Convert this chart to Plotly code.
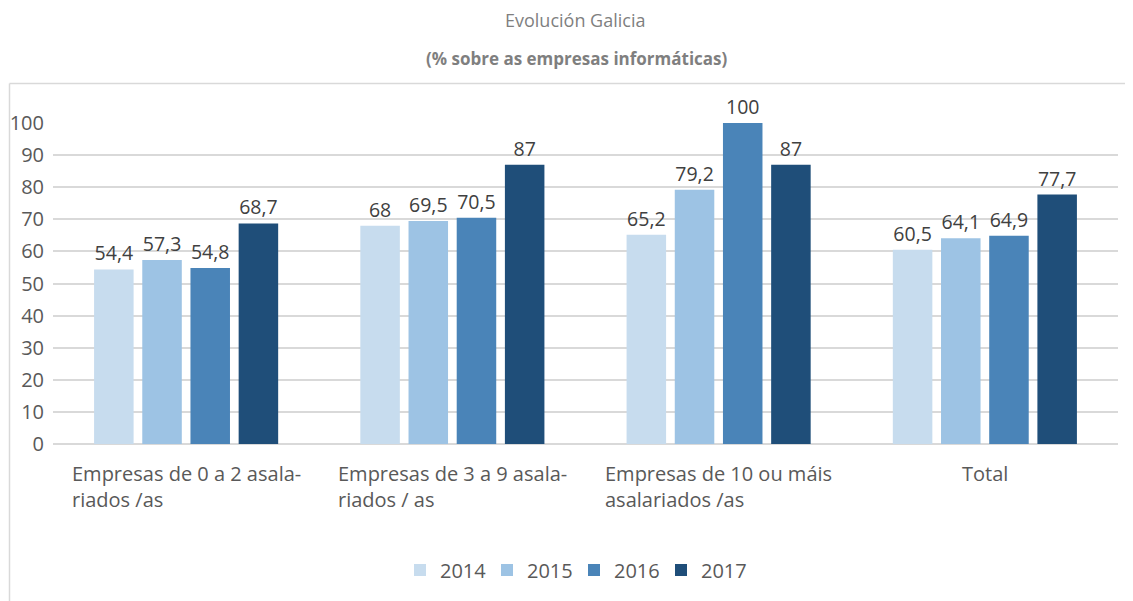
import plotly.graph_objects as go

categories = ["Empresas de 0 a 2 asala-<br>riados /as",
              "Empresas de 3 a 9 asala-<br>riados / as",
              "Empresas de 10 ou máis<br>asalariados /as",
              "Total"]
years = ["2014", "2015", "2016", "2017"]
values = {
    "2014": [54.4, 68, 65.2, 60.5],
    "2015": [57.3, 69.5, 79.2, 64.1],
    "2016": [54.8, 70.5, 100, 64.9],
    "2017": [68.7, 87, 87, 77.7],
}
colors = {"2014": "#C7DCEE", "2015": "#9DC3E4", "2016": "#4A84B8", "2017": "#1F4E79"}
y_ticks = [0, 10, 20, 30, 40, 50, 60, 70, 80, 90, 100]

OFF = 8  # browser body margin
W, H = 1133 - OFF, 601 - OFF
L, R, T, B = 53 - OFF, 15, 123 - OFF, 157
pw, ph = W - L - R, H - T - B
FONT = "Open Sans"

def fmt(v):
    return ("%g" % v).replace(".", ",")

fig = go.Figure()
for yr in years:
    fig.add_trace(go.Bar(
        x=list(range(len(categories))), y=values[yr], name=yr,
        marker=dict(color=colors[yr], line=dict(width=0)),
        text=[fmt(v) for v in values[yr]], textposition="outside",
        textfont=dict(family=FONT, size=19.5, color="#404040"),
        cliponaxis=False,
    ))

for i, c in enumerate(categories):
    fig.add_annotation(x=i, y=0, xref="x", yref="y", text=c, showarrow=False,
                       align="left", xanchor="center", yanchor="top", yshift=-14,
                       font=dict(family=FONT, size=20, color="#595959"))

def px2x(px):
    return (px - OFF - L) / pw

def px2y(py):
    return (H - B - (py - OFF)) / ph

fig.add_shape(type="line", xref="paper", yref="paper",
              x0=px2x(9.5), x1=px2x(1140), y0=px2y(83.5), y1=px2y(83.5),
              line=dict(color="#D9D9D9", width=1.5))
fig.add_shape(type="line", xref="paper", yref="paper",
              x0=px2x(9.5), x1=px2x(9.5), y0=px2y(83.5), y1=px2y(610),
              line=dict(color="#D9D9D9", width=1.5))

fig.add_annotation(xref="paper", yref="paper", x=px2x(575), y=px2y(20),
                   xanchor="center", yanchor="middle",
                   text="Evolución Galicia", showarrow=False,
                   font=dict(family=FONT, size=18, color="#7F7F7F"))
fig.add_annotation(xref="paper", yref="paper", x=px2x(577), y=px2y(58),
                   xanchor="center", yanchor="middle",
                   text="<b>(% sobre as empresas informáticas)</b>", showarrow=False,
                   font=dict(family=FONT, size=17, color="#7F7F7F"))

fig.update_layout(
    width=W, height=H,
    margin=dict(l=L, r=R, t=T, b=B, autoexpand=False),
    paper_bgcolor="white", plot_bgcolor="white",
    barmode="group", bargap=0.276, bargroupgap=0.18,
    showlegend=True,
    legend=dict(orientation="h", x=px2x(574), y=px2y(570), xanchor="center", yanchor="middle",
                font=dict(family=FONT, size=20, color="#595959"),
                itemwidth=30, entrywidth=42, entrywidthmode="pixels", traceorder="normal"),
    xaxis=dict(range=[-0.5, 3.5], showticklabels=False, showgrid=False, zeroline=False,
               showline=False, ticks=""),
    yaxis=dict(range=[0, 100], tickvals=y_ticks, ticktext=[str(v) for v in y_ticks],
               showgrid=True, gridcolor="#D9D9D9", gridwidth=1.5, zeroline=True,
               zerolinecolor="#D9D9D9", zerolinewidth=1.5, showline=False,
               tickfont=dict(family=FONT, size=20, color="#595959"),
               ticks="", ticklabelstandoff=8),
)

fig.write_html("out.html")
